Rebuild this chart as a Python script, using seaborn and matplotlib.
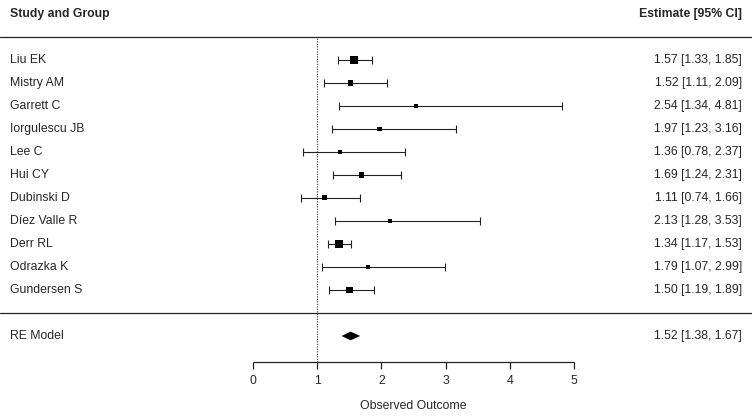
import numpy as np
import pandas as pd
import seaborn as sns
import matplotlib.pyplot as plt

sns.set_style("white")
plt.rcParams["font.family"] = ["Liberation Sans", "DejaVu Sans"]

# dados do forest plot
studies = ["Liu EK", "Mistry AM", "Garrett C", "Iorgulescu JB", "Lee C", "Hui CY",
           "Dubinski D", "Díez Valle R", "Derr RL", "Odrazka K", "Gundersen S"]
est = [1.57, 1.52, 2.54, 1.97, 1.36, 1.69, 1.11, 2.13, 1.34, 1.79, 1.50]
lower = [1.33, 1.11, 1.34, 1.23, 0.78, 1.24, 0.74, 1.28, 1.17, 1.07, 1.19]
upper = [1.85, 2.09, 4.81, 3.16, 2.37, 2.31, 1.66, 3.53, 1.53, 2.99, 1.89]
re_est, re_lo, re_hi = 1.52, 1.38, 1.67
xticks = [0, 1, 2, 3, 4, 5]

k = len(studies)
df = pd.DataFrame({"study": studies, "est": est, "lo": lower, "hi": upper})
df["y"] = np.arange(k, 0, -1)
# precisao a partir do IC (1/SE na escala log)
df["prec"] = 2 * 1.96 / (np.log(df["hi"]) - np.log(df["lo"]))

fig = plt.figure(figsize=(7.52, 4.16), dpi=100)
ax = fig.add_axes([0, 0, 1, 1])
ax.set_xlim(-253 / 64.2, 499 / 64.2)
ax.set_ylim(-4.48, 13.61)
ax.axis("off")

col = "#222222"
fs = 8.8

# linhas horizontais
ax.axhline(k + 1, color=col, lw=0.9)
ax.axhline(0, color=col, lw=0.9)
# linha de referencia em 1
ax.vlines(1, -2.13, k + 1, colors="#555555", lw=0.9, linestyles=(0, (1, 1)))

# intervalos de confianca
ax.errorbar(df["est"], df["y"], xerr=[df["est"] - df["lo"], df["hi"] - df["est"]],
            fmt="none", ecolor=col, elinewidth=0.8, capsize=2.6, capthick=0.8)
sns.scatterplot(data=df, x="est", y="y", size="prec", sizes=(8, 40), marker="s",
                color="black", edgecolor="black", linewidth=0, legend=False, ax=ax, zorder=3)

# diamante do modelo RE
ax.fill([re_lo, re_est, re_hi, re_est], [-1, -1 + 0.19, -1, -1 - 0.19], color="black", lw=0)

# textos
xl = (10 - 253) / 64.2
xr = (742 - 253) / 64.2
for _, r in df.iterrows():
    ax.text(xl, r["y"], r["study"], ha="left", va="center", fontsize=fs)
    ax.text(xr, r["y"], f"{r['est']:.2f} [{r['lo']:.2f}, {r['hi']:.2f}]",
            ha="right", va="center", fontsize=fs)
ax.text(xl, -1, "RE Model", ha="left", va="center", fontsize=fs)
ax.text(xr, -1, f"{re_est:.2f} [{re_lo:.2f}, {re_hi:.2f}]", ha="right", va="center", fontsize=fs)
ax.text(xl, k + 2, "Study and Group", ha="left", va="center", fontsize=fs, fontweight="bold")
ax.text(xr, k + 2, "Estimate [95% CI]", ha="right", va="center", fontsize=fs, fontweight="bold")

# eixo x manual
ya = -2.13
ax.hlines(ya, xticks[0], xticks[-1], colors=col, lw=0.9)
for t in xticks:
    ax.vlines(t, ya - 0.3, ya, colors=col, lw=0.9)
    ax.text(t, -2.96, str(t), ha="center", va="center", fontsize=fs)
ax.text(np.mean([xticks[0], xticks[-1]]), -4.04, "Observed Outcome", ha="center", va="center", fontsize=fs)

plt.savefig("out.png", dpi=100)
